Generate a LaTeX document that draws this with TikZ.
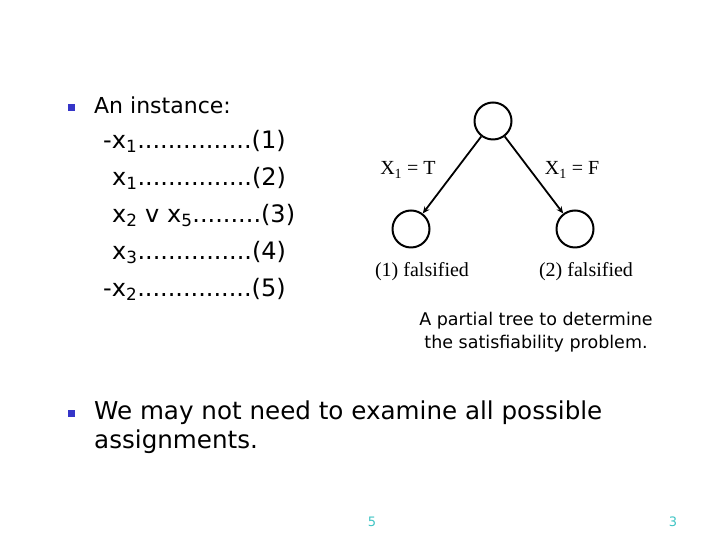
\documentclass[tikz,border=0pt]{standalone}
\usepackage{fontspec}
\setmainfont{DejaVu Sans}
\newfontfamily\arbolfont{Liberation Serif}
\usepackage{tikz}
\usetikzlibrary{positioning,arrows.meta}
\definecolor{cvineta}{HTML}{3535C8}
\definecolor{cpagina}{HTML}{3FC4C4}
\tikzset{
  vineta/.style={rectangle, fill=cvineta, minimum size=7pt, inner sep=0pt},
  nodo/.style={circle, draw, line width=2pt, minimum size=37pt, inner sep=0pt},
  flecha/.style={-{Stealth[length=7pt,width=6pt]}, line width=1.8pt},
  titulo/.style={font=\fontsize{22}{26}\selectfont, inner sep=0pt, anchor=base west},
  clausula/.style={font=\fontsize{24}{29}\selectfont, inner sep=0pt, anchor=base west},
  texto/.style={font=\fontsize{24.6}{29}\selectfont, inner sep=0pt, anchor=base west,
    align=left},
  etq/.style={font=\arbolfont\fontsize{20}{24}\selectfont, inner sep=0pt},
  nota/.style={font=\fontsize{17.5}{23}\selectfont, align=center, inner sep=0pt},
  pagina/.style={font=\fontsize{13}{15}\selectfont, text=cpagina, inner sep=0pt},
}

\begin{document}
\begin{tikzpicture}[x=1pt, y=1pt]
  \useasboundingbox (0,0) rectangle (720,540);

  \node[vineta] (b1) at (71,432) {};
  \node[titulo] (inst) at (94,426) {An instance:};
  \node[clausula] (c1) at (103,391) {-x\textsubscript{1}...............(1)};
  \node[clausula] (c2) at (112,354) {x\textsubscript{1}...............(2)};
  \node[clausula] (c3) at (112,317) {x\textsubscript{2} v x\textsubscript{5}.........(3)};
  \node[clausula] (c4) at (112,280) {x\textsubscript{3}...............(4)};
  \node[clausula] (c5) at (103,243) {-x\textsubscript{2}...............(5)};

  \node[nodo] (raiz) at (493,419) {};
  \node[nodo] (izq) at (411,311) {};
  \node[nodo] (der) at (575,311) {};
  \draw[flecha] (raiz) -- (izq);
  \draw[flecha] (raiz) -- (der);
  \node[etq] (lt) at (408,370) {X\textsubscript{1} = T};
  \node[etq] (lf) at (572,370) {X\textsubscript{1} = F};
  \node[etq] (f1) at (422,268) {(1) falsified};
  \node[etq] (f2) at (586,268) {(2) falsified};
  \node[nota] (pie) at (536,208) {A partial tree to determine\\the satisfiability problem.};

  \node[vineta] (b2) at (71,126) {};
  \node[texto] (idea) at (94,91) {We may not need to examine all possible\\assignments.};

  \node[pagina] (n5) at (372,18) {5};
  \node[pagina] (n3) at (673,18) {3};
\end{tikzpicture}
\end{document}
